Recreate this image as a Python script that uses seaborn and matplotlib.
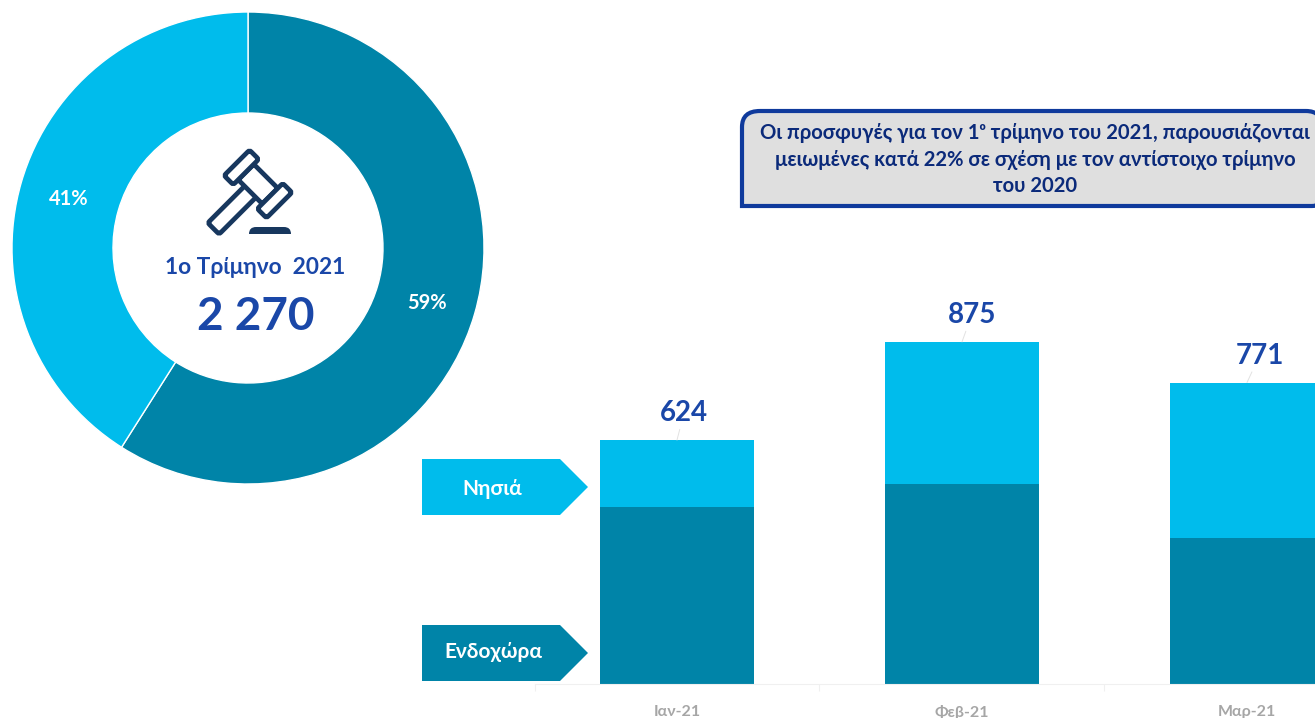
import matplotlib
matplotlib.use("Agg")
import matplotlib.pyplot as plt
import seaborn as sns
from matplotlib.patches import FancyBboxPatch, PathPatch, Polygon
from matplotlib.path import Path
from matplotlib.transforms import Affine2D

# Data
months = ["Ιαν-21", "Φεβ-21", "Μαρ-21"]
mainland = [453, 512, 374]
islands = [171, 363, 397]
share_labels = ["59%", "41%"]
share_values = [59, 41]
quarter_title = "1ο Τρίμηνο  2021"
quarter_total = "2 270"
note_lines = [
    "Οι προσφυγές για τον 1ᵒ τρίμηνο του 2021, παρουσιάζονται",
    "μειωμένες κατά 22% σε σχέση με τον αντίστοιχο τρίμηνο",
    "του 2020",
]
legend_names = ["Νησιά", "Ενδοχώρα"]

LIGHT = "#00bcec"
DARK = "#0084a8"
TEXT_BLUE = "#1a47a8"
W, H = 1315, 718

sns.set_theme(style="white")
plt.rcParams["font.family"] = ["Lato", "Noto Sans", "DejaVu Sans"]
plt.rcParams["font.weight"] = "bold"

fig = plt.figure(figsize=(W / 100, H / 100), dpi=100, facecolor="white")


def px_axes(left, top, right, bottom):
    # axes placed by pixel edges of the figure
    return fig.add_axes([left / W, 1 - bottom / H, (right - left) / W, (bottom - top) / H])


# stacked bars: totals first, the mainland part on top of them
totals = [a + b for a, b in zip(mainland, islands)]
ax = px_axes(534.5, 293, 1315, 684)
sns.barplot(x=months, y=totals, color=LIGHT, saturation=1, width=0.54, linewidth=0, ax=ax)
sns.barplot(x=months, y=mainland, color=DARK, saturation=1, width=0.54, linewidth=0, ax=ax)
ax.set_xlim(-0.5, 2.2386)
ax.set_ylim(0, 1000)
ax.patch.set_alpha(0)
ax.set_yticks([])
ax.set_ylabel("")
sns.despine(ax=ax, left=True)
ax.spines["bottom"].set_color("#f0f0f0")
ax.spines["bottom"].set_linewidth(0.8)
ax.set_xticks([-0.5, 0.5, 1.5], minor=True)
ax.tick_params(axis="x", which="minor", length=5, width=0.8, color="#f0f0f0", bottom=True)
ax.tick_params(axis="x", which="major", length=0, pad=15, labelsize=11.5, labelcolor="#a6a6a6")

for i, total in enumerate(totals):
    ax.annotate(str(total), xy=(i, total), xytext=(5 + i * 2, 10), textcoords="offset points",
                ha="center", va="bottom", fontsize=20, color=TEXT_BLUE,
                arrowprops=dict(arrowstyle="-", color="#e2e2e2", lw=0.7, shrinkA=0, shrinkB=0))

# donut
ax_pie = px_axes(12, 12, 484, 484)
_, pie_texts = ax_pie.pie(share_values, colors=[DARK, LIGHT], startangle=90, counterclock=False, radius=1,
                          wedgeprops=dict(width=101 / 236, edgecolor="white", linewidth=1),
                          labels=share_labels, labeldistance=0.79,
                          textprops=dict(color="white", fontsize=14.5, ha="center", va="center"))
ax_pie.set_xlim(-1, 1)
ax_pie.set_ylim(-1, 1)
for t in pie_texts:
    t.set_y(t.get_position()[1] - 0.012)

# overlay in pixel coordinates for the text boxes and the icon
ov = fig.add_axes([0, 0, 1, 1])
ov.set_xlim(0, W)
ov.set_ylim(H, 0)
ov.axis("off")
ov.patch.set_alpha(0)

ov.text(255, 267, quarter_title, ha="center", va="center", fontsize=16.4, color=TEXT_BLUE)
ov.text(256, 317, quarter_total, ha="center", va="center", fontsize=33, color=TEXT_BLUE)

# gavel icon
NAVY = "#17375e"
gavel = Affine2D().rotate_deg(45).translate(258, 184) + ov.transData


def gavel_part(x, y, w, h, r=2.5):
    ov.add_patch(FancyBboxPatch((x + r, y + r), w - 2 * r, h - 2 * r,
                                boxstyle=f"round,pad={r},rounding_size={r}",
                                fc="white", ec=NAVY, lw=3.4, transform=gavel))


gavel_part(-8, 10, 16, 53)
gavel_part(-17, -11, 34, 22)
gavel_part(-30, -18, 13, 36)
gavel_part(17, -18, 13, 36)
base = Path([(249, 234), (249, 227), (256, 227), (284, 227), (291, 227), (291, 234), (249, 234)],
            [Path.MOVETO, Path.CURVE3, Path.CURVE3, Path.LINETO, Path.CURVE3, Path.CURVE3, Path.CLOSEPOLY])
ov.add_patch(PathPatch(base, fc=NAVY, ec="none"))

# note box, running off the right edge
box = Path([(742, 206), (742, 127), (742, 111), (760, 111), (1306, 111), (1322, 111), (1322, 127),
            (1322, 196), (1322, 206), (1312, 206), (742, 206)],
           [Path.MOVETO, Path.LINETO, Path.CURVE3, Path.CURVE3, Path.LINETO, Path.CURVE3, Path.CURVE3,
            Path.LINETO, Path.CURVE3, Path.CURVE3, Path.CLOSEPOLY])
ov.add_patch(PathPatch(box, fc="#dfdfdf", ec="#0f3a9c", lw=3))
for y, line in zip([133, 160, 186], note_lines):
    ov.text(1035, y, line, ha="center", va="center", fontsize=14.6, color="#0b2a7a")

# arrow shaped labels
for name, colour, top, tx, ty in zip(legend_names, [LIGHT, DARK], [459, 625], [492, 493], [489, 652]):
    ov.add_patch(Polygon([(422, top), (560, top), (588, top + 28), (560, top + 56), (422, top + 56)],
                         closed=True, fc=colour, ec="none"))
    ov.text(tx, ty, name, ha="center", va="center", fontsize=15, color="white")

fig.savefig("out.png", dpi=100)
